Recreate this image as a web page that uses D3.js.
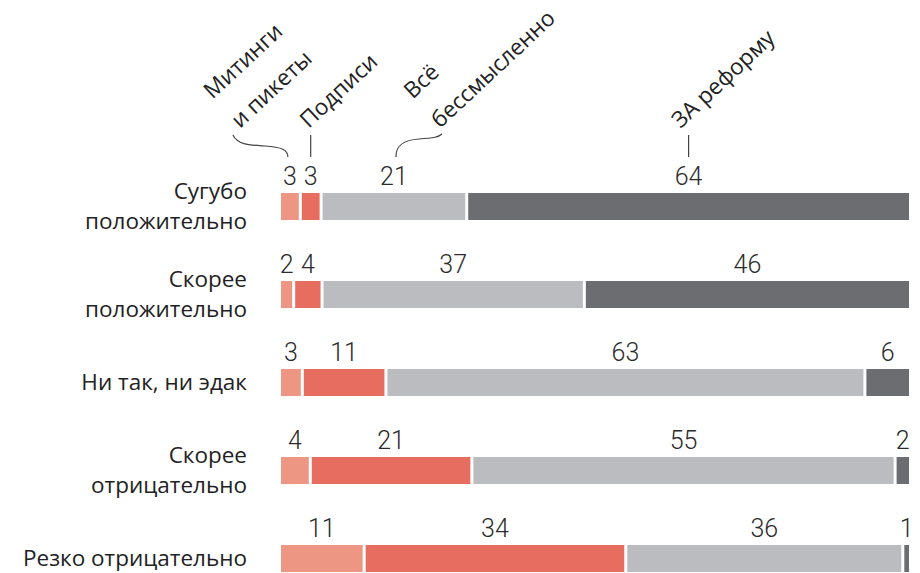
<!DOCTYPE html>
<html>
<head>
<meta charset="utf-8">
<script src="https://cdn.jsdelivr.net/npm/d3@7"></script>
<style>
  body { margin: 0; background: #fff; }
  svg { display: block; }
  .cat { font-family: "Open Sans", sans-serif; font-size: 22.5px; fill: #222; }
  .num { font-family: Roboto, "Liberation Sans", sans-serif; font-weight: 300; font-size: 25px; fill: #2b2b2b; }
  .ann { font-family: "Open Sans", sans-serif; font-size: 22.5px; fill: #222; }
</style>
</head>
<body>
<div id="chart"></div>
<script>
// rows (attitude to the reform)
let categories = ["Сугубо\nположительно", "Скорее\nположительно", "Ни так, ни эдак", "Скорее\nотрицательно", "Резко отрицательно"];
// series, left to right
let seriesNames = ["Митинги\nи пикеты", "Подписи", "Всё\nбессмысленно", "ЗА реформу"];
let mitingi = [3, 2, 3, 4, 11];
let podpisi = [3, 4, 11, 21, 34];
let bessmyslenno = [21, 37, 63, 55, 36];
let zaReformu = [64, 46, 6, 2, 1];
let colors = ["#ed9683", "#e86d61", "#bbbcc0", "#6c6d71"];

let width = 920, height = 573;
let margin = {top: 193, right: 11, bottom: 1, left: 281};
let gap = 3;

let rows = categories.map((c, i) => {
  let vals = [mitingi[i], podpisi[i], bessmyslenno[i], zaReformu[i]];
  let total = d3.sum(vals);
  let acc = 0;
  let segs = vals.map((v, j) => {
    let s = {row: i, series: j, value: v, x0: acc, x1: acc + v};
    acc += v;
    return s;
  });
  return {name: c, total: total, segs: segs};
});

let svg = d3.select("#chart").append("svg")
  .attr("width", width)
  .attr("height", height);

let y = d3.scaleBand()
  .domain(categories)
  .range([margin.top, height - margin.bottom])
  .paddingInner(61 / 88)
  .paddingOuter(0);

// each row is stretched to the full width
rows.forEach(r => {
  r.x = d3.scaleLinear().domain([0, r.total]).range([margin.left, width - margin.right + gap]);
});

let row = svg.selectAll("g.row")
  .data(rows)
  .join("g")
  .attr("class", "row")
  .attr("transform", d => "translate(0," + y(d.name) + ")");

row.selectAll("rect")
  .data(d => d.segs.map(s => Object.assign({x: d.x}, s)))
  .join("rect")
  .attr("x", d => d.x(d.x0))
  .attr("width", d => Math.max(1, d.x(d.x1) - d.x(d.x0) - gap))
  .attr("height", y.bandwidth())
  .attr("fill", d => colors[d.series]);

row.selectAll("text.num")
  .data(d => d.segs.map(s => Object.assign({x: d.x}, s)))
  .join("text")
  .attr("class", "num")
  .attr("x", d => (d.x(d.x0) + d.x(d.x1) - gap) / 2)
  .attr("y", -8)
  .attr("text-anchor", "middle")
  .text(d => d.value);

// category labels
let lineH = 30;
row.append("text")
  .attr("class", "cat")
  .attr("text-anchor", "end")
  .attr("transform", "translate(247," + (y.bandwidth() / 2 + 7.5) + ")")
  .selectAll("tspan")
  .data(d => d.name.split("\n").map((t, i, a) => ({t: t, dy: (i - (a.length - 1) / 2) * lineH})))
  .join("tspan")
  .attr("x", 0)
  .attr("y", d => d.dy)
  .text(d => d.t);

// series annotations above the first row
let first = rows[0];
let centers = first.segs.map(s => (first.x(s.x0) + first.x(s.x1) - gap) / 2);
let rowTop = y(first.name);
let annOffset = [-50, -2, 46, -8];
let angle = -43;
let annLine = 40;

let ann = svg.append("g");
seriesNames.forEach((name, j) => {
  let cx = centers[j];
  let lines = name.split("\n");
  let g = ann.append("g")
    .attr("transform", "translate(" + (cx + annOffset[j]) + "," + (rowTop - 64) + ") rotate(" + angle + ")");
  g.append("text")
    .attr("class", "ann")
    .selectAll("tspan")
    .data(lines)
    .join("tspan")
    .attr("x", 0)
    .attr("y", (d, i) => (i - (lines.length - 1)) * annLine)
    .text(d => d);
});

// connectors from labels to numbers
let y0 = rowTop - 58, y1 = rowTop - 36;
let path = d3.path();
let c0 = centers[0] - 2;
path.moveTo(c0 - 55, y0);
path.bezierCurveTo(c0 - 50, y0 + 10, c0 - 38, y0 + 10, c0 - 23, y0 + 11);
path.bezierCurveTo(c0 - 6, y0 + 12, c0, y0 + 15, c0, y1);
let c2 = centers[2] + 2;
path.moveTo(c2, y1);
path.bezierCurveTo(c2, y1 - 12, c2 + 8, y1 - 17, c2 + 23, y1 - 18);
path.bezierCurveTo(c2 + 38, y1 - 19, c2 + 43, y1 - 20, c2 + 46, y0 - 1);
[1, 3].forEach(j => {
  path.moveTo(centers[j], y0);
  path.lineTo(centers[j], y1);
});
ann.append("path")
  .attr("d", path.toString())
  .attr("fill", "none")
  .attr("stroke", "#444")
  .attr("stroke-width", 1.2);
</script>
</body>
</html>
